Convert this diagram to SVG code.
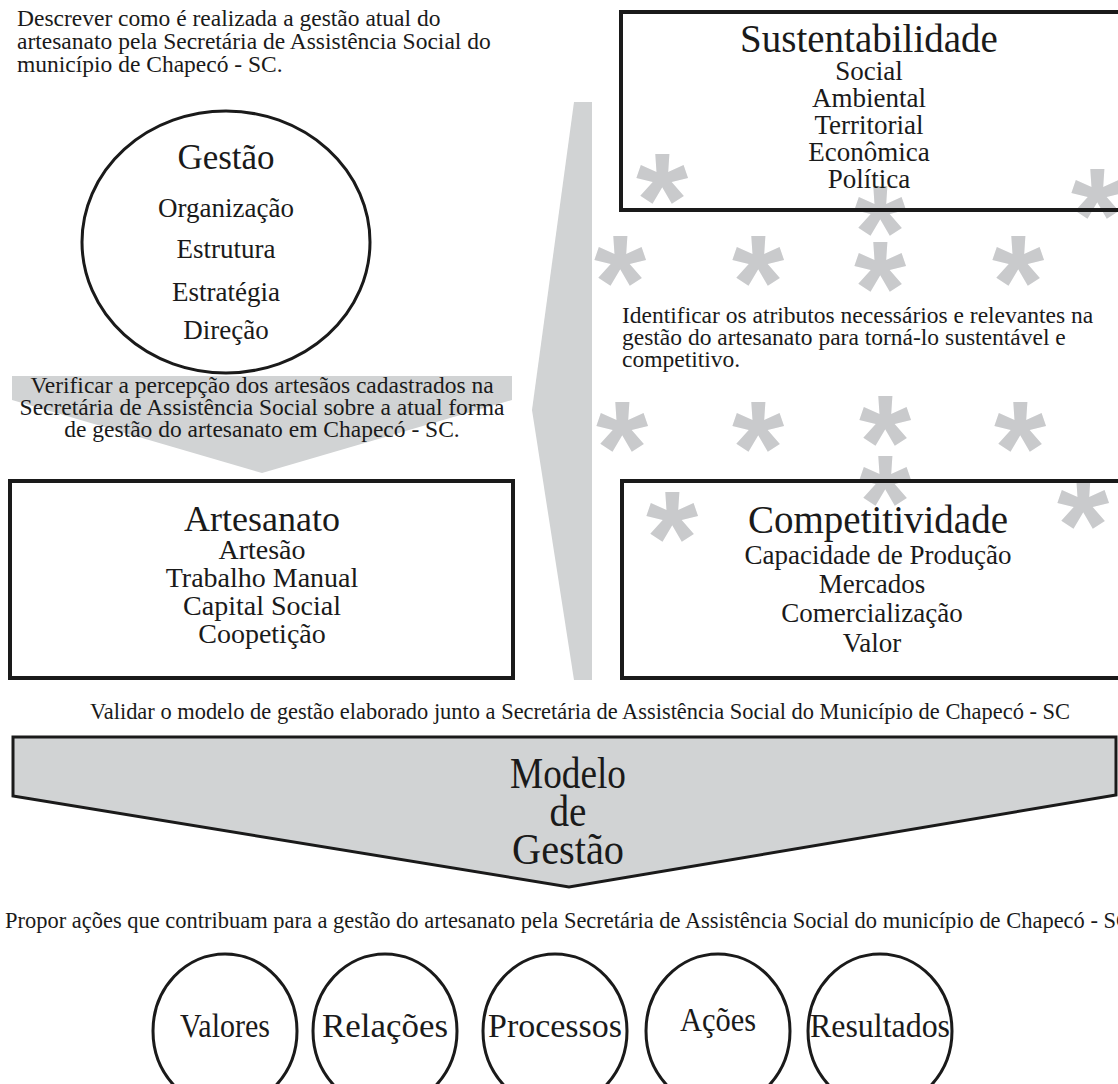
<svg xmlns="http://www.w3.org/2000/svg" width="1118" height="1084" viewBox="0 0 1118 1084">
<style>
text{font-family:"Liberation Serif","Times New Roman",serif;fill:#1a1a1a}
.d{font-size:23.5px}
.t{font-size:36px;text-anchor:middle}
.i{font-size:27px;text-anchor:middle}
.c{text-anchor:middle}
.star{font-family:"Liberation Sans",Arial,sans-serif;font-weight:bold;font-size:134px;fill:#c9cacc;text-anchor:middle}
.box{fill:none;stroke:#1a1a1a;stroke-width:4}
.gray{fill:#d1d3d4}
.ol{fill:none;stroke:#1a1a1a;stroke-width:3}
</style>
<rect width="1118" height="1084" fill="#fff"/>
<g id="connectors">
<polygon class="gray" points="574,102 592,102 592,680 574,680 532,410"/>
<polygon class="gray" points="12,376 512,376 512,400 262,473 12,400"/>
</g>
<g id="desc-top">
<text class="d" x="17" y="26">Descrever como é realizada a gestão atual do</text>
<text class="d" x="17" y="49">artesanato pela Secretária de Assistência Social do</text>
<text class="d" x="17" y="72">município de Chapecó - SC.</text>
</g>
<g id="gestao">
<ellipse cx="226" cy="242" rx="144" ry="131" fill="#fff" stroke="#1a1a1a" stroke-width="3"/>
<text class="t" x="226" y="169" style="font-size:35px">Gestão</text>
<text class="i" x="226" y="217">Organização</text>
<text class="i" x="226" y="258">Estrutura</text>
<text class="i" x="226" y="301">Estratégia</text>
<text class="i" x="226" y="339">Direção</text>
</g>
<g id="verificar">
<text class="d c" x="262" y="393">Verificar a percepção dos artesãos cadastrados na</text>
<text class="d c" x="262" y="415">Secretária de Assistência Social sobre a atual forma</text>
<text class="d c" x="262" y="437">de gestão do artesanato em Chapecó - SC.</text>
</g>
<g id="artesanato">
<rect class="box" x="10" y="481" width="503" height="197"/>
<text class="t" x="262" y="531">Artesanato</text>
<text class="i" x="262" y="559" style="font-size:28px">Artesão</text>
<text class="i" x="262" y="587" style="font-size:28px">Trabalho Manual</text>
<text class="i" x="262" y="615" style="font-size:28px">Capital Social</text>
<text class="i" x="262" y="643" style="font-size:28px">Coopetição</text>
</g>
<g id="stars">
<text class="star" x="662" y="246">*</text>
<text class="star" x="880" y="278">*</text>
<text class="star" x="1097" y="261">*</text>
<text class="star" x="620" y="328">*</text>
<text class="star" x="758" y="328">*</text>
<text class="star" x="880" y="334">*</text>
<text class="star" x="1018" y="328">*</text>
<text class="star" x="622" y="494">*</text>
<text class="star" x="758" y="494">*</text>
<text class="star" x="885" y="488">*</text>
<text class="star" x="1020" y="494">*</text>
<text class="star" x="885" y="548">*</text>
<text class="star" x="672" y="584">*</text>
<text class="star" x="1083" y="571">*</text>
</g>
<g id="sustentabilidade">
<rect class="box" x="621" y="12" width="520" height="198"/>
<text class="t" x="869" y="52" style="font-size:39px">Sustentabilidade</text>
<text class="i" x="869" y="80">Social</text>
<text class="i" x="869" y="107">Ambiental</text>
<text class="i" x="869" y="134">Territorial</text>
<text class="i" x="869" y="161">Econômica</text>
<text class="i" x="869" y="188">Política</text>
</g>
<g id="identificar">
<text class="d" x="622" y="323">Identificar os atributos necessários e relevantes na</text>
<text class="d" x="622" y="345">gestão do artesanato para torná-lo sustentável e</text>
<text class="d" x="622" y="367">competitivo.</text>
</g>
<g id="competitividade">
<rect class="box" x="622" y="481" width="520" height="197"/>
<text class="t" x="878" y="533" style="font-size:39px">Competitividade</text>
<text class="i" x="878" y="564">Capacidade de Produção</text>
<text class="i" x="872" y="593">Mercados</text>
<text class="i" x="872" y="622">Comercialização</text>
<text class="i" x="872" y="652">Valor</text>
</g>
<g id="validar">
<text class="c" x="580" y="719" style="font-size:22.5px" textLength="980" lengthAdjust="spacingAndGlyphs">Validar o modelo de gestão elaborado junto a Secretária de Assistência Social do Município de Chapecó - SC</text>
</g>
<g id="modelo">
<polygon points="13,737 1116,737 1116,795 569,887 13,796" fill="#d1d3d4" stroke="#1a1a1a" stroke-width="3"/>
<text class="c" x="568" y="788" style="font-size:44px" textLength="116" lengthAdjust="spacingAndGlyphs">Modelo</text>
<text class="c" x="568" y="826" style="font-size:44px" textLength="37" lengthAdjust="spacingAndGlyphs">de</text>
<text class="c" x="568" y="864" style="font-size:44px" textLength="112" lengthAdjust="spacingAndGlyphs">Gestão</text>
</g>
<g id="propor">
<text x="5" y="928" style="font-size:22.4px" textLength="1126" lengthAdjust="spacingAndGlyphs">Propor ações que contribuam para a gestão do artesanato pela Secretária de Assistência Social do município de Chapecó - SC</text>
</g>
<g id="valores"><ellipse class="ol" cx="225" cy="1031" rx="72" ry="77"/><text class="c" x="225" y="1037" style="font-size:33px" textLength="90" lengthAdjust="spacingAndGlyphs">Valores</text></g>
<g id="relacoes"><ellipse class="ol" cx="385" cy="1031" rx="72" ry="77"/><text class="c" x="385" y="1037" style="font-size:33px" textLength="126" lengthAdjust="spacingAndGlyphs">Relações</text></g>
<g id="processos"><ellipse class="ol" cx="555" cy="1031" rx="72" ry="77"/><text class="c" x="555" y="1037" style="font-size:33px" textLength="134" lengthAdjust="spacingAndGlyphs">Processos</text></g>
<g id="acoes"><ellipse class="ol" cx="718" cy="1031" rx="72" ry="77"/><text class="c" x="718" y="1031" style="font-size:33px" textLength="76" lengthAdjust="spacingAndGlyphs">Ações</text></g>
<g id="resultados"><ellipse class="ol" cx="880" cy="1031" rx="72" ry="77"/><text class="c" x="880" y="1037" style="font-size:33px" textLength="140" lengthAdjust="spacingAndGlyphs">Resultados</text></g>
</svg>
